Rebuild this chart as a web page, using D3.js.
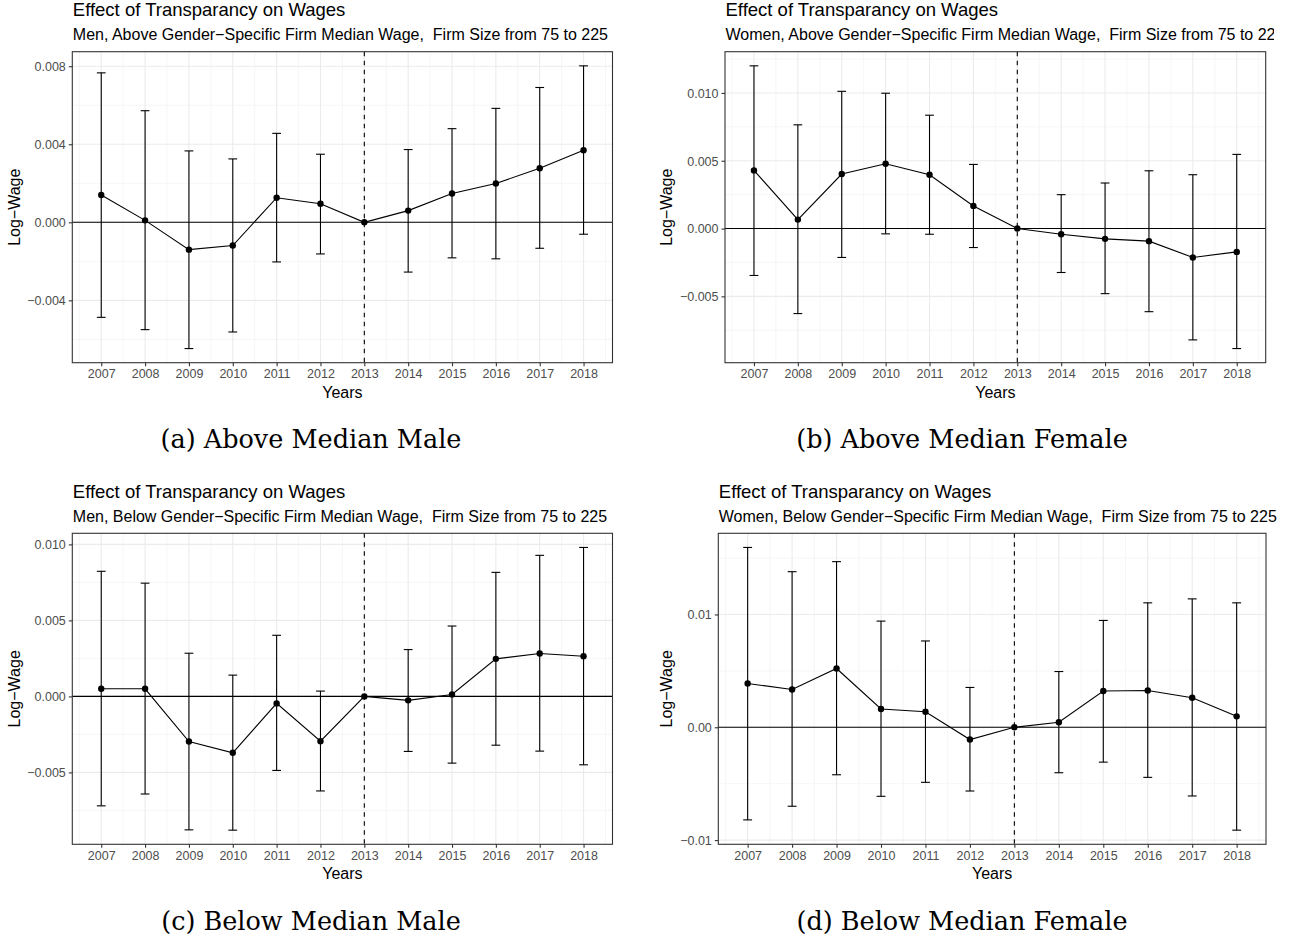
<!DOCTYPE html>
<html>
<head>
<meta charset="utf-8">
<script src="https://cdn.jsdelivr.net/npm/d3@7"></script>
<style>
  html, body { margin: 0; padding: 0; background: #fff; }
  svg { display: block; }
  text { white-space: pre; }
</style>
</head>
<body>
<svg id="chart" width="1292" height="939"></svg>
<script>
// ---------------- DATA ----------------
const years = [2007, 2008, 2009, 2010, 2011, 2012, 2013, 2014, 2015, 2016, 2017, 2018];

// (a) Men, above median
const menAboveEst = [0.00140, 0.00010, -0.00140, -0.00119, 0.00126, 0.00095, 0, 0.00060, 0.00148, 0.00199, 0.00277, 0.00369];
const menAboveLo  = [-0.00487, -0.00550, -0.00647, -0.00562, -0.00203, -0.00162, null, -0.00255, -0.00182, -0.00187, -0.00133, -0.00061];
const menAboveHi  = [0.00766, 0.00572, 0.00366, 0.00325, 0.00456, 0.00349, null, 0.00373, 0.00480, 0.00584, 0.00691, 0.00802];

// (b) Women, above median
const womenAboveEst = [0.00429, 0.00066, 0.00402, 0.00478, 0.00397, 0.00167, 0, -0.00042, -0.00076, -0.00093, -0.00213, -0.00172];
const womenAboveLo  = [-0.00346, -0.00627, -0.00213, -0.00039, -0.00042, -0.00140, null, -0.00324, -0.00480, -0.00613, -0.00821, -0.00885];
const womenAboveHi  = [0.01200, 0.00765, 0.01012, 0.00998, 0.00836, 0.00473, null, 0.00250, 0.00336, 0.00426, 0.00397, 0.00547];

// (c) Men, below median
const menBelowEst = [0.00050, 0.00050, -0.00297, -0.00371, -0.00046, -0.00295, 0, -0.00026, 0.00013, 0.00247, 0.00282, 0.00264];
const menBelowLo  = [-0.00720, -0.00642, -0.00878, -0.00880, -0.00487, -0.00622, null, -0.00362, -0.00439, -0.00321, -0.00360, -0.00450];
const menBelowHi  = [0.00823, 0.00745, 0.00284, 0.00140, 0.00402, 0.00035, null, 0.00308, 0.00463, 0.00816, 0.00928, 0.00980];

// (d) Women, below median
const womenBelowEst = [0.00388, 0.00335, 0.00521, 0.00162, 0.00138, -0.00109, 0, 0.00044, 0.00321, 0.00326, 0.00262, 0.00097];
const womenBelowLo  = [-0.00821, -0.00700, -0.00421, -0.00612, -0.00488, -0.00565, null, -0.00403, -0.00309, -0.00444, -0.00609, -0.00912];
const womenBelowHi  = [0.01594, 0.01379, 0.01468, 0.00941, 0.00765, 0.00353, null, 0.00494, 0.00947, 0.01103, 0.01138, 0.01103];

// tick values
const ticksA = [-0.004, 0, 0.004, 0.008];
const ticksB = [-0.005, 0, 0.005, 0.010];
const ticksC = [-0.005, 0, 0.005, 0.010];
const ticksD = [-0.01, 0, 0.01];
const minorA = [-0.006, -0.002, 0.002, 0.006];
const minorB = [-0.0075, -0.0025, 0.0025, 0.0075, 0.0125];
const minorC = [-0.0075, -0.0025, 0.0025, 0.0075];
const minorD = [-0.005, 0.005, 0.015];

const titleText = "Effect of Transparancy on Wages";
const subtitles = [
  "Men, Above Gender\u2212Specific Firm Median Wage,  Firm Size from 75 to 225",
  "Women, Above Gender\u2212Specific Firm Median Wage,  Firm Size from 75 to 225",
  "Men, Below Gender\u2212Specific Firm Median Wage,  Firm Size from 75 to 225",
  "Women, Below Gender\u2212Specific Firm Median Wage,  Firm Size from 75 to 225"
];
const captions = ["(a) Above Median Male", "(b) Above Median Female", "(c) Below Median Male", "(d) Below Median Female"];
const breakYear = 2013;

// ---------------- LAYOUT ----------------
const panels = [
  { est: menAboveEst, lo: menAboveLo, hi: menAboveHi, ticks: ticksA, minor: minorA, fmt: ".3f",
    left: 72.3, top: 51.7, width: 540.2, height: 311, ylabX: 14.5, capX: 311, capY: 448, clipRight: null },
  { est: womenAboveEst, lo: womenAboveLo, hi: womenAboveHi, ticks: ticksB, minor: minorB, fmt: ".3f",
    left: 725, top: 51.7, width: 540.7, height: 311, ylabX: 666, capX: 962, capY: 448, clipRight: 1274 },
  { est: menBelowEst, lo: menBelowLo, hi: menBelowHi, ticks: ticksC, minor: minorC, fmt: ".3f",
    left: 72.3, top: 533.3, width: 540.2, height: 311, ylabX: 14.5, capX: 311, capY: 930, clipRight: null },
  { est: womenBelowEst, lo: womenBelowLo, hi: womenBelowHi, ticks: ticksD, minor: minorD, fmt: ".2f",
    left: 718.3, top: 533.3, width: 547.7, height: 311, ylabX: 666, capX: 962, capY: 930, clipRight: null }
];

const svg = d3.select("#chart");
const FONT = "'Liberation Sans', Arial, Helvetica, sans-serif";
const defs = svg.append("defs");

panels.forEach((p, i) => {
  const g = svg.append("g");

  // x scale: error-bar half-width 0.1 then 5% expansion
  const xMin = d3.min(years) - 0.1, xMax = d3.max(years) + 0.1;
  const xPad = (xMax - xMin) * 0.05;
  const x = d3.scaleLinear().domain([xMin - xPad, xMax + xPad]).range([p.left, p.left + p.width]);

  const allVals = p.est.concat(p.lo.filter(v => v != null), p.hi.filter(v => v != null));
  const yMin = d3.min(allVals), yMax = d3.max(allVals);
  const yPad = (yMax - yMin) * 0.05;
  const y = d3.scaleLinear().domain([yMin - yPad, yMax + yPad]).range([p.top + p.height, p.top]);

  // titles
  let tg = g.append("g");
  if (p.clipRight) {
    const id = "clip" + i;
    defs.append("clipPath").attr("id", id).append("rect")
      .attr("x", p.left - 80).attr("y", p.top - 60).attr("width", p.clipRight - (p.left - 80)).attr("height", 60);
    tg.attr("clip-path", `url(#${id})`);
  }
  tg.append("text").attr("x", p.left + 0.5).attr("y", p.top - 35.5)
    .attr("font-family", FONT).attr("font-size", 18.5).attr("fill", "#000").text(titleText);
  tg.append("text").attr("x", p.left + 0.5).attr("y", p.top - 11.5)
    .attr("font-family", FONT).attr("font-size", 16).attr("fill", "#000").text(subtitles[i]);

  // background grid
  const grid = g.append("g");
  const xMinor = d3.range(d3.min(years) - 0.5, d3.max(years) + 1, 1);
  grid.selectAll(".xminor").data(xMinor).join("line")
    .attr("x1", d => x(d)).attr("x2", d => x(d)).attr("y1", p.top).attr("y2", p.top + p.height)
    .attr("stroke", "#F0F0F0").attr("stroke-width", 0.6);
  grid.selectAll(".yminor").data(p.minor).join("line")
    .attr("y1", d => y(d)).attr("y2", d => y(d)).attr("x1", p.left).attr("x2", p.left + p.width)
    .attr("stroke", "#F0F0F0").attr("stroke-width", 0.6);
  grid.selectAll(".xmajor").data(years).join("line")
    .attr("x1", d => x(d)).attr("x2", d => x(d)).attr("y1", p.top).attr("y2", p.top + p.height)
    .attr("stroke", "#EBEBEB").attr("stroke-width", 1.1);
  grid.selectAll(".ymajor").data(p.ticks).join("line")
    .attr("y1", d => y(d)).attr("y2", d => y(d)).attr("x1", p.left).attr("x2", p.left + p.width)
    .attr("stroke", "#EBEBEB").attr("stroke-width", 1.1);

  // zero line and break line
  g.append("line").attr("x1", p.left).attr("x2", p.left + p.width).attr("y1", y(0)).attr("y2", y(0))
    .attr("stroke", "#000").attr("stroke-width", 1.1);
  g.append("line").attr("x1", x(breakYear)).attr("x2", x(breakYear)).attr("y1", p.top).attr("y2", p.top + p.height)
    .attr("stroke", "#000").attr("stroke-width", 1.1).attr("stroke-dasharray", "4.5,4.5");

  // error bars
  const rows = years.map((yr, k) => ({ yr, est: p.est[k], lo: p.lo[k], hi: p.hi[k] }));
  const eb = rows.filter(r => r.lo != null);
  const eg = g.append("g").attr("stroke", "#000").attr("stroke-width", 1.1).attr("fill", "none");
  eg.selectAll(".v").data(eb).join("line")
    .attr("x1", d => x(d.yr)).attr("x2", d => x(d.yr)).attr("y1", d => y(d.lo)).attr("y2", d => y(d.hi));
  eg.selectAll(".ct").data(eb).join("line")
    .attr("x1", d => x(d.yr - 0.1)).attr("x2", d => x(d.yr + 0.1)).attr("y1", d => y(d.hi)).attr("y2", d => y(d.hi));
  eg.selectAll(".cb").data(eb).join("line")
    .attr("x1", d => x(d.yr - 0.1)).attr("x2", d => x(d.yr + 0.1)).attr("y1", d => y(d.lo)).attr("y2", d => y(d.lo));

  // line and points
  g.append("path").datum(rows)
    .attr("d", d3.line().x(d => x(d.yr)).y(d => y(d.est)))
    .attr("fill", "none").attr("stroke", "#000").attr("stroke-width", 1.1);
  g.selectAll(".pt").data(rows).join("circle")
    .attr("cx", d => x(d.yr)).attr("cy", d => y(d.est)).attr("r", 3.2).attr("fill", "#000");

  // panel border
  g.append("rect").attr("x", p.left).attr("y", p.top).attr("width", p.width).attr("height", p.height)
    .attr("fill", "none").attr("stroke", "#333333").attr("stroke-width", 1.1);

  // axes
  const xAxis = d3.axisBottom(x).tickValues(years).tickFormat(d3.format("d")).tickSize(3.5).tickPadding(3);
  const xg = g.append("g").attr("transform", `translate(0,${p.top + p.height})`).call(xAxis);
  const yAxis = d3.axisLeft(y).tickValues(p.ticks).tickFormat(d3.format(p.fmt)).tickSize(3.5).tickPadding(3);
  const yg = g.append("g").attr("transform", `translate(${p.left},0)`).call(yAxis);
  [xg, yg].forEach(ax => {
    ax.select(".domain").remove();
    ax.selectAll(".tick line").attr("stroke", "#333333").attr("stroke-width", 1.1);
    ax.selectAll(".tick text").attr("fill", "#4D4D4D").attr("font-size", 12.5).attr("font-family", FONT);
  });
  yg.selectAll(".tick text").attr("dy", "0.35em");

  // axis titles
  g.append("text").attr("x", p.left + p.width / 2).attr("y", p.top + p.height + 35)
    .attr("text-anchor", "middle").attr("font-family", FONT).attr("font-size", 16).text("Years");
  g.append("text").attr("transform", `translate(${p.ylabX + 5.5},${p.top + p.height / 2}) rotate(-90)`)
    .attr("text-anchor", "middle").attr("font-family", FONT).attr("font-size", 16).text("Log\u2212Wage");

  // caption
  svg.append("text").attr("x", p.capX).attr("y", p.capY).attr("text-anchor", "middle")
    .attr("font-family", "'DejaVu Serif', 'Liberation Serif', serif").attr("font-size", 25.5).attr("fill", "#000")
    .text(captions[i]);
});
</script>
</body>
</html>
